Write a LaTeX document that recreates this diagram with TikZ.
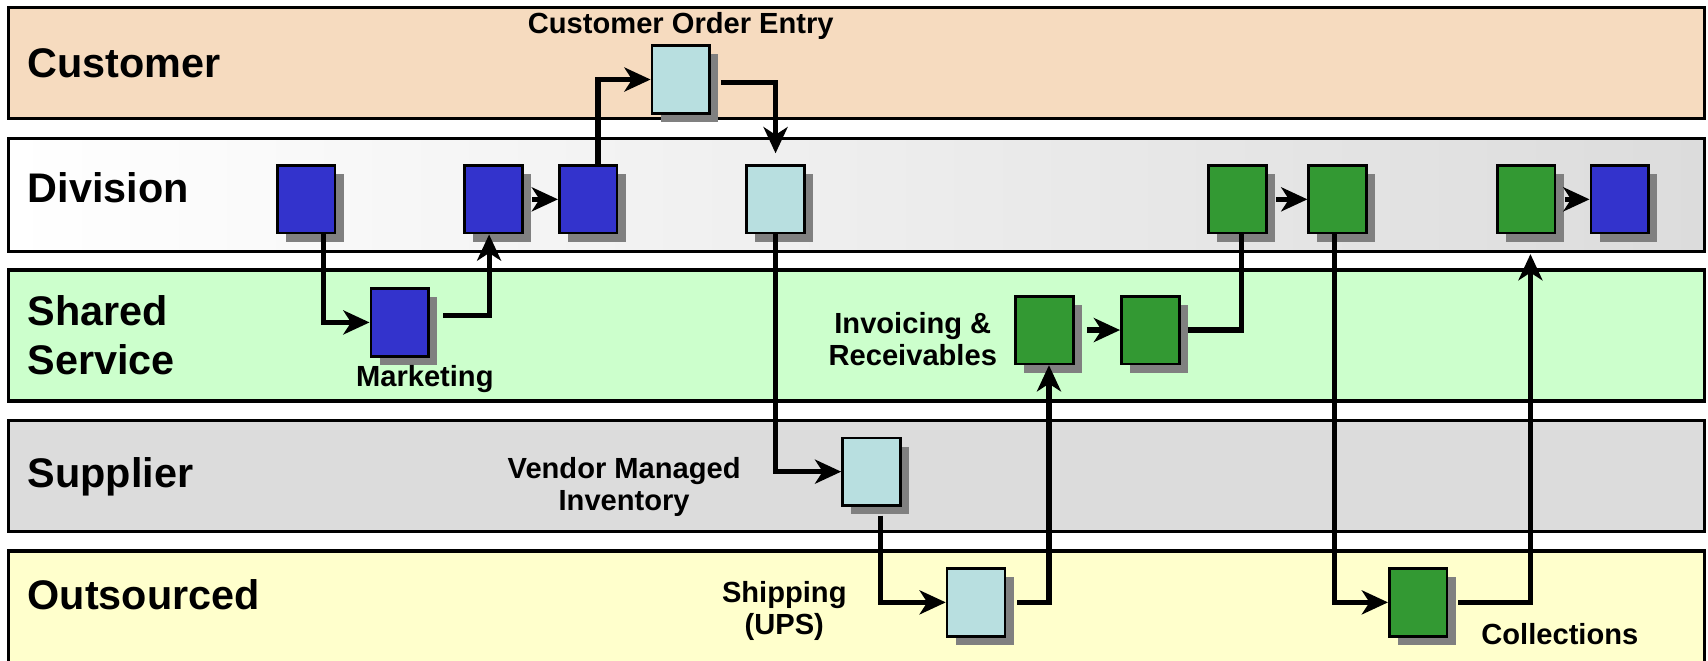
\documentclass[tikz,border=0pt]{standalone}
\usepackage{fontspec}
\setmainfont{Liberation Sans}
\usetikzlibrary{arrows.meta,shadows}

\definecolor{custfill}{HTML}{F6DBBF}
\definecolor{sharedfill}{HTML}{CCFFCC}
\definecolor{supfill}{HTML}{DCDCDC}
\definecolor{outfill}{HTML}{FFFFCC}
\definecolor{taskblue}{HTML}{3333CC}
\definecolor{taskgreen}{HTML}{339933}
\definecolor{tasklight}{HTML}{B8DFE0}

\tikzset{
  lane/.style={draw=black, line width=0.9pt},
  lanelabel/.style={anchor=west, font=\fontsize{10.8}{12.8}\selectfont\bfseries, align=left},
  tasklabel/.style={font=\fontsize{7.6}{8.4}\selectfont\bfseries, align=center},
  task/.style={draw=black, line width=0.7pt, minimum width=0.53cm, minimum height=0.62cm,
    inner sep=0pt, drop shadow={shadow xshift=0.08cm, shadow yshift=-0.08cm, fill=gray, opacity=1}},
  flow/.style={line width=1.35pt, -{Stealth[length=0.24cm, width=0.22cm, inset=0.07cm]}},
  link/.style={line width=1.35pt}
}

\begin{document}
\begin{tikzpicture}[x=0.01cm, y=-0.01cm]
    \useasboundingbox (0,0) rectangle (1568,606);
    % corsie
    \draw[lane, fill=custfill] (8,7) rectangle (1565,109);
    \draw[lane, left color=white, right color=supfill] (8,127) rectangle (1565,231);
    \draw[lane, fill=sharedfill] (8,248) rectangle (1565,368);
    \draw[lane, fill=supfill] (8,386) rectangle (1565,488);
    \draw[lane, fill=outfill] (8,506) rectangle (1565,620);
    \node[lanelabel] (lcust) at (13,58) {Customer};
    \node[lanelabel] (ldiv) at (13,172) {Division};
    \node[lanelabel] (lshared) at (13,308) {Shared\\Service};
    \node[lanelabel] (lsup) at (13,438) {Supplier};
    \node[lanelabel] (lout) at (13,546) {Outsourced};

    % attivita
    \node[task, fill=taskblue] (d1) at (281,183) {};
    \node[task, fill=taskblue] (d2) at (453,183) {};
    \node[task, fill=taskblue] (d3) at (540,183) {};
    \node[task, fill=tasklight] (d4) at (712,183) {};
    \node[task, fill=taskgreen] (d5) at (1136,183) {};
    \node[task, fill=taskgreen] (d6) at (1228,183) {};
    \node[task, fill=taskgreen] (d7) at (1401,183) {};
    \node[task, fill=taskblue] (d8) at (1487,183) {};
    \node[task, fill=tasklight] (coe) at (625,73) {};
    \node[task, fill=taskblue] (mkt) at (367,296) {};
    \node[task, fill=taskgreen] (inv) at (959,303) {};
    \node[task, fill=taskgreen] (rec) at (1056,303) {};
    \node[task, fill=tasklight] (vmi) at (800,433) {};
    \node[task, fill=tasklight] (ups) at (896,553) {};
    \node[task, fill=taskgreen] (col) at (1302,553) {};

    \node[tasklabel] (tcoe) at (625,24) {Customer Order Entry};
    \node[tasklabel] (tmkt) at (390,348) {Marketing};
    \node[tasklabel] (tinv) at (838,311) {Invoicing \&\\Receivables};
    \node[tasklabel] (tvmi) at (573,447) {Vendor Managed\\Inventory};
    \node[tasklabel] (tups) at (720,561) {Shipping\\(UPS)};
    \node[tasklabel] (tcol) at (1432,582) {Collections};

    % flussi
    \draw[flow] ([xshift=0.16cm]d1.south) |- (mkt.west);
    \draw[flow] ([xshift=0.12cm, yshift=0.06cm]mkt.east) -| ([xshift=-0.04cm]d2.south);
    \draw[flow] ([xshift=0.08cm]d2.east) -- (d3.west);
    \draw[flow] ([xshift=0.09cm]d3.north) |- (coe.west);
    \draw[flow] ([xshift=0.09cm, yshift=-0.03cm]coe.east) -| ([yshift=0.1cm]d4.north);
    \draw[flow] (d4.south) |- (vmi.west);
    \draw[flow] ([xshift=0.08cm, yshift=-0.08cm]vmi.south) |- (ups.west);
    \draw[flow] ([xshift=0.1cm]ups.east) -| ([xshift=0.04cm]inv.south);
    \draw[flow] ([xshift=0.11cm]inv.east) -- (rec.west);
    \draw[link] ([xshift=0.07cm]rec.east) -| ([xshift=0.04cm]d5.south);
    \draw[flow] ([xshift=0.08cm]d5.east) -- (d6.west);
    \draw[flow] ([xshift=-0.03cm]d6.south) |- (col.west);
    \draw[flow] ([xshift=0.09cm]col.east) -| ([xshift=0.04cm, yshift=-0.18cm]d7.south);
    \draw[flow] ([xshift=0.08cm]d7.east) -- (d8.west);
\end{tikzpicture}
\end{document}
